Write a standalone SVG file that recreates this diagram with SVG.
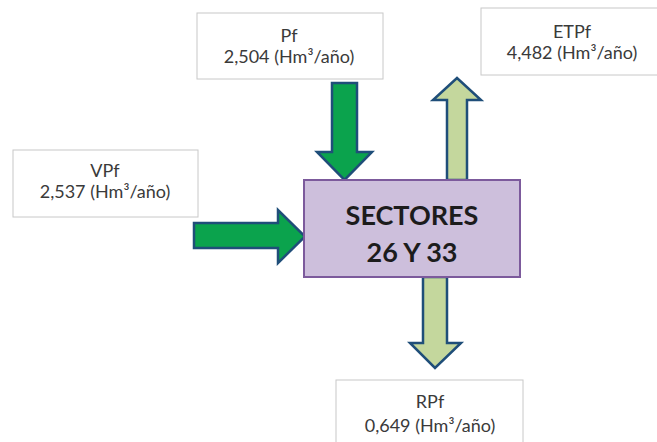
<svg xmlns="http://www.w3.org/2000/svg" width="657" height="442" viewBox="0 0 657 442">
<style>
.lbl{fill:#fff;stroke:#c8c8c8;stroke-width:1}
.t{font-family:Lato,"Open Sans","Liberation Sans",sans-serif;font-size:18px;fill:#3a3a3a;text-anchor:middle}
.main{fill:#cdbfdc;stroke:#7c5a9c;stroke-width:2}
.mt{font-family:Lato,"Open Sans","Liberation Sans",sans-serif;font-size:27px;font-weight:bold;fill:#1c1c1c;text-anchor:middle}
.gin{fill:#0ba34d;stroke:#1f4e79;stroke-width:2.5;stroke-linejoin:miter}
.gout{fill:#c4d79d;stroke:#1f4e79;stroke-width:2.5;stroke-linejoin:miter}
</style>
<rect width="657" height="442" fill="#fff"/>
<g id="connectors">
<path class="gin" d="M332,83 H357 V152 H372 L344.5,180 L317,152 H332 Z"/>
<path class="gin" d="M194,223 H278 V210 L305,236.5 L278,263 V248 H194 Z"/>
<path class="gout" d="M447,180 V100 H433 L457,78 L481,100 H467 V180 Z"/>
<path class="gout" d="M423,277 V343 H410 L435,368 L461,343 H447 V277 Z"/>
</g>
<g id="node-pf">
<rect class="lbl" x="197" y="13" width="186" height="66"/>
<text class="t" x="289" y="42">Pf</text>
<text class="t" x="289" y="63">2,504 (Hm³/año)</text>
</g>
<g id="node-etpf">
<rect class="lbl" x="481" y="8" width="185" height="67"/>
<text class="t" x="572" y="38">ETPf</text>
<text class="t" x="572" y="59">4,482 (Hm³/año)</text>
</g>
<g id="node-vpf">
<rect class="lbl" x="13" y="150" width="185" height="67"/>
<text class="t" x="105" y="177">VPf</text>
<text class="t" x="105" y="198">2,537 (Hm³/año)</text>
</g>
<g id="node-sectores">
<rect class="main" x="304" y="180" width="216" height="97"/>
<text class="mt" x="412" y="225">SECTORES</text>
<text class="mt" x="412" y="262">26 Y 33</text>
</g>
<g id="node-rpf">
<rect class="lbl" x="336" y="380" width="187" height="70"/>
<text class="t" x="430" y="408">RPf</text>
<text class="t" x="430" y="432">0,649 (Hm³/año)</text>
</g>
</svg>
